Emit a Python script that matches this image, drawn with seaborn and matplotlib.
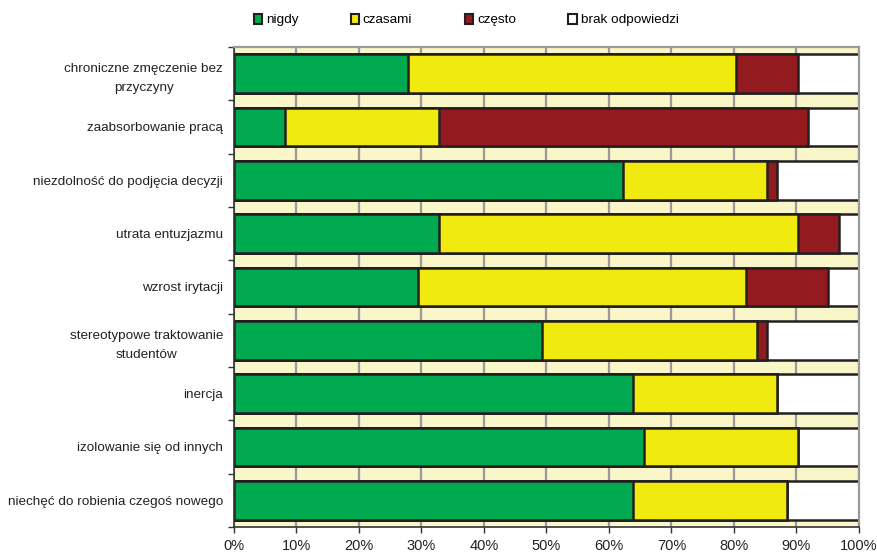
import numpy as np
import pandas as pd
import seaborn as sns
import matplotlib.pyplot as plt
from matplotlib.patches import Patch

# Data (percent of answers)
categories = [
    'chroniczne zmęczenie bez\nprzyczyny',
    'zaabsorbowanie pracą',
    'niezdolność do podjęcia decyzji',
    'utrata entuzjazmu',
    'wzrost irytacji',
    'stereotypowe traktowanie\nstudentów',
    'inercja',
    'izolowanie się od innych',
    'niechęć do robienia czegoś nowego',
]
nigdy = [27.9, 8.2, 62.3, 32.8, 29.5, 49.2, 63.9, 65.6, 63.9]
czasami = [52.5, 24.6, 23.0, 57.4, 52.5, 34.4, 23.0, 24.6, 24.6]
czesto = [9.8, 59.0, 1.6, 6.6, 13.1, 1.6, 0.0, 0.0, 0.0]
brak = [9.8, 8.2, 13.1, 3.2, 4.9, 14.8, 13.1, 9.8, 11.5]

series_names = ['nigdy', 'czasami', 'często', 'brak odpowiedzi']
colors = ['#00A84F', '#F0EA0F', '#931B1F', '#FFFFFF']
xticks = list(range(0, 101, 10))

df = pd.DataFrame({'kategoria': categories, 'nigdy': nigdy, 'czasami': czasami,
                   'często': czesto, 'brak odpowiedzi': brak})
# normalise each row to 100%
vals = df[series_names]
vals = vals.div(vals.sum(axis=1), axis=0) * 100
cum = vals.cumsum(axis=1)
cum['kategoria'] = df['kategoria']

plt.rcParams['font.family'] = ['Liberation Sans', 'DejaVu Sans']
fig = plt.figure(figsize=(8.78, 5.57), dpi=100)
ax = fig.add_axes([234 / 878, 1 - 527 / 557, 625 / 878, 480 / 557])

# draw cumulative bars from the widest to the narrowest -> stacked look
for name, col in reversed(list(zip(series_names, colors))):
    sns.barplot(data=cum, y='kategoria', x=name, order=categories, orient='h',
                color=col, saturation=1, width=0.73, edgecolor='#231F20',
                linewidth=1.8, ax=ax)

ax.set_facecolor('#F9F6C9')
ax.set_xlim(0, 100)
ax.set_ylim(len(categories) - 0.5, -0.5)
ax.set_axisbelow(True)
ax.xaxis.grid(True, color='#9A9A9A', linewidth=1.6)
ax.yaxis.grid(False)

ax.set_xticks(xticks)
ax.set_xticklabels([f'{t}%' for t in xticks], fontsize=10.5, color='#222222')
ax.tick_params(axis='x', direction='out', length=4, width=1, pad=5, colors='#333333',
               labelcolor='#222222')

ax.set_yticks(range(len(categories)))
ax.set_yticklabels(categories, fontsize=9.7, color='#222222', ha='right',
                   multialignment='center', linespacing=1.75)
ax.tick_params(axis='y', length=0, pad=8)
ax.set_yticks(np.arange(-0.5, len(categories), 1), minor=True)
ax.tick_params(axis='y', which='minor', direction='out', length=4, width=1, colors='#333333')

ax.set_xlabel('')
ax.set_ylabel('')
for side in ['top', 'right']:
    ax.spines[side].set_color('#9A9A9A')
    ax.spines[side].set_linewidth(1.6)
for side in ['left', 'bottom']:
    ax.spines[side].set_color('#333333')
    ax.spines[side].set_linewidth(1.2)

handles = [Patch(facecolor=c, edgecolor='#231F20', linewidth=1.5) for c in colors]
fig.legend(handles, series_names, loc='center', bbox_to_anchor=(466 / 878, 1 - 20 / 557),
           ncol=4, frameon=False, fontsize=9.7, handlelength=0.6, handleheight=0.8,
           handletextpad=0.3, columnspacing=3.9)

fig.savefig('out.png', dpi=100)
